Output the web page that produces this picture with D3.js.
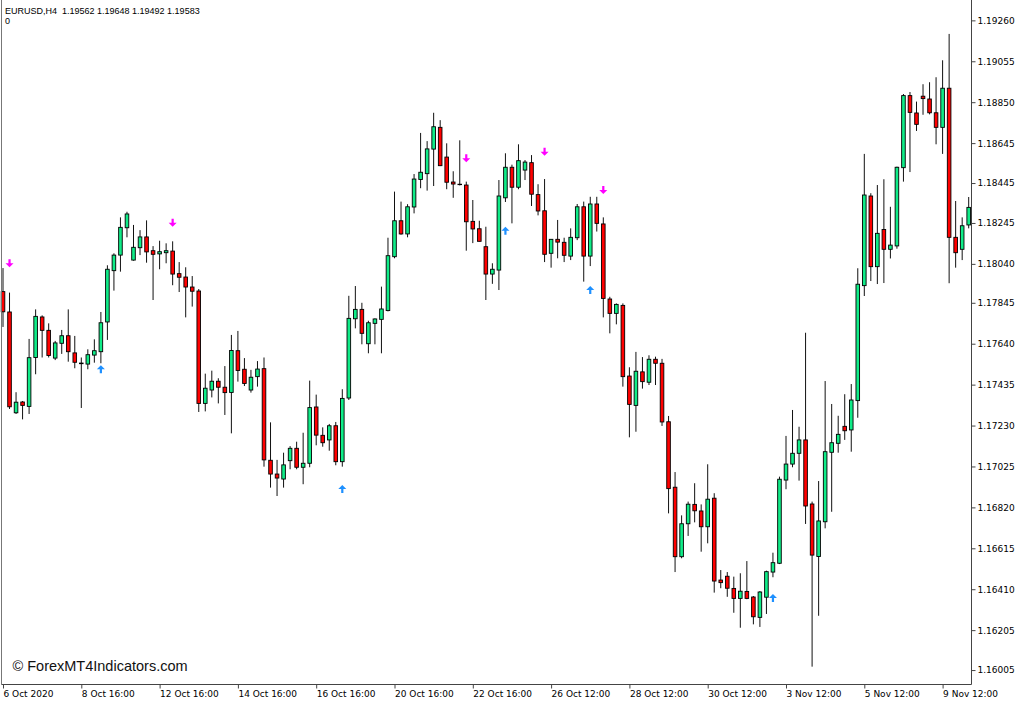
<!DOCTYPE html>
<html><head><meta charset="utf-8">
<script src="https://cdn.jsdelivr.net/npm/d3@7"></script>
<style>html,body{margin:0;padding:0;background:#fff;overflow:hidden}</style>
</head><body><svg id="c" width="1024" height="704"></svg>
<script>
const openP = [
1.17901,1.17799,1.17294,1.17348,1.17326,1.17571,1.17774,1.17707,1.17568,1.17642,
1.17680,1.17594,1.17543,1.17538,1.17583,1.17600,1.17749,1.18006,1.18084,1.18221,
1.18059,1.18121,1.18175,1.18106,1.18090,1.18096,1.18104,1.17991,1.17974,1.17924,
1.17904,1.17341,1.17408,1.17452,1.17422,1.17396,1.17605,1.17512,1.17408,1.17475,
1.17515,1.17056,1.16987,1.16962,1.17054,1.17116,1.17021,1.17041,1.17323,1.17181,
1.17158,1.17229,1.17049,1.17368,1.17765,1.17812,1.17640,1.17742,1.17762,1.17806,
1.18076,1.18256,1.18190,1.18325,1.18463,1.18492,1.18615,1.18724,1.18575,1.18450,
1.18439,1.18435,1.18253,1.18216,1.18126,1.17989,1.18009,1.18371,1.18524,1.18424,
1.18510,1.18547,1.18387,1.18306,1.18093,1.18163,1.18148,1.18079,1.18171,1.18326,
1.18079,1.18340,1.18240,1.17864,1.17792,1.17832,1.17478,1.17331,1.17499,1.17447,
1.17562,1.17542,1.17249,1.16921,1.16573,1.16738,1.16835,1.16802,1.16723,1.16866,
1.16456,1.16475,1.16414,1.16364,1.16399,1.16371,1.16269,1.16370,1.16496,1.16540,
1.16957,1.17037,1.17091,1.17158,1.16837,1.16574,1.16748,1.17096,1.17141,1.17226,
1.17208,1.17355,1.17931,1.18380,1.18026,1.18212,1.18113,1.18130,1.18522,1.18883,
1.18796,1.18880,1.18866,1.18797,1.18724,1.18920,1.18173,1.18113,1.18235];
const highP = [
1.18019,1.17896,1.17397,1.17353,1.17664,1.17812,1.17782,1.17742,1.17654,1.17709,
1.17812,1.17679,1.17571,1.17612,1.17662,1.17799,1.18033,1.18093,1.18273,1.18301,
1.18235,1.18209,1.18258,1.18129,1.18156,1.18143,1.18153,1.18049,1.18023,1.17979,
1.17914,1.17490,1.17505,1.17467,1.17528,1.17684,1.17704,1.17568,1.17509,1.17553,
1.17571,1.17246,1.17058,1.17094,1.17127,1.17149,1.17194,1.17455,1.17385,1.17221,
1.17238,1.17248,1.17412,1.17880,1.17929,1.17845,1.17755,1.17767,1.17926,1.18171,
1.18402,1.18352,1.18339,1.18490,1.18696,1.18655,1.18797,1.18760,1.18644,1.18504,
1.18659,1.18452,1.18360,1.18256,1.18226,1.18043,1.18460,1.18594,1.18537,1.18639,
1.18560,1.18585,1.18439,1.18465,1.18164,1.18260,1.18171,1.18218,1.18340,1.18352,
1.18376,1.18376,1.18273,1.17875,1.17842,1.17842,1.17522,1.17599,1.17573,1.17582,
1.17575,1.17564,1.17278,1.16997,1.16780,1.16849,1.16941,1.16835,1.17036,1.16891,
1.16506,1.16496,1.16473,1.16490,1.16551,1.16376,1.16401,1.16503,1.16593,1.16974,
1.17178,1.17308,1.17224,1.17695,1.16849,1.16952,1.17453,1.17338,1.17279,1.17387,
1.17438,1.18018,1.18591,1.18394,1.18435,1.18464,1.18326,1.18527,1.18891,1.18901,
1.18853,1.18940,1.18950,1.18975,1.19060,1.19192,1.18355,1.18273,1.18375];
const lowP = [
1.17724,1.17313,1.17288,1.17261,1.17288,1.17487,1.17571,1.17571,1.17558,1.17589,
1.17550,1.17517,1.17318,1.17512,1.17545,1.17542,1.17659,1.17906,1.18001,1.18173,
1.18056,1.18084,1.18046,1.17859,1.18013,1.18043,1.17933,1.17899,1.17772,1.17826,
1.17298,1.17301,1.17371,1.17341,1.17283,1.17191,1.17450,1.17428,1.17395,1.17425,
1.17024,1.16919,1.16877,1.16919,1.17011,1.17011,1.16936,1.17021,1.17131,1.17124,
1.17104,1.17031,1.17024,1.17358,1.17717,1.17637,1.17592,1.17637,1.17592,1.17802,
1.18068,1.18186,1.18173,1.18293,1.18419,1.18407,1.18430,1.18530,1.18414,1.18371,
1.18433,1.18106,1.18144,1.18152,1.17859,1.17940,1.17909,1.18350,1.18243,1.18414,
1.18460,1.18330,1.18283,1.18049,1.18021,1.18068,1.18049,1.18059,1.18159,1.17951,
1.18029,1.18202,1.17772,1.17692,1.17737,1.17425,1.17171,1.17199,1.17415,1.17433,
1.17433,1.17228,1.16790,1.16496,1.16565,1.16677,1.16745,1.16598,1.16640,1.16393,
1.16415,1.16372,1.16292,1.16217,1.16360,1.16234,1.16221,1.16286,1.16470,1.16536,
1.16911,1.17021,1.16954,1.16737,1.16022,1.16277,1.16715,1.16798,1.17094,1.17158,
1.17099,1.17269,1.17879,1.17954,1.17939,1.17944,1.18067,1.18116,1.18452,1.18500,
1.18706,1.18787,1.18789,1.18639,1.18591,1.17943,1.18021,1.18059,1.18218];
const closeP = [
1.17800,1.17324,1.17347,1.17331,1.17570,1.17777,1.17707,1.17581,1.17644,1.17680,
1.17600,1.17547,1.17540,1.17585,1.17605,1.17745,1.18013,1.18084,1.18223,1.18290,
1.18123,1.18175,1.18100,1.18088,1.18101,1.18106,1.17989,1.17973,1.17924,1.17903,
1.17341,1.17417,1.17452,1.17422,1.17395,1.17606,1.17506,1.17441,1.17472,1.17513,
1.17058,1.16987,1.16967,1.17033,1.17116,1.17021,1.17041,1.17320,1.17182,1.17144,
1.17229,1.17049,1.17366,1.17767,1.17812,1.17692,1.17745,1.17764,1.17814,1.18081,
1.18256,1.18190,1.18326,1.18465,1.18499,1.18616,1.18727,1.18532,1.18449,1.18440,
1.18437,1.18251,1.18215,1.18153,1.17989,1.18013,1.18380,1.18524,1.18424,1.18557,
1.18550,1.18389,1.18305,1.18088,1.18163,1.18149,1.18083,1.18173,1.18326,1.18079,
1.18340,1.18243,1.17867,1.17792,1.17837,1.17475,1.17336,1.17502,1.17450,1.17562,
1.17542,1.17248,1.16914,1.16573,1.16738,1.16836,1.16803,1.16723,1.16861,1.16451,
1.16443,1.16415,1.16364,1.16400,1.16364,1.16272,1.16396,1.16498,1.16543,1.16961,
1.17037,1.17091,1.17158,1.16827,1.16581,1.16752,1.17099,1.17144,1.17186,1.17204,
1.17358,1.17938,1.18385,1.18026,1.18193,1.18113,1.18134,1.18524,1.18883,1.18799,
1.18739,1.18868,1.18797,1.18724,1.18920,1.18173,1.18096,1.18231,1.18323];

const xTickIdx = [0,12,24,36,48,60,72,84,96,108,120,132,144];
const xTickLabels = ["6 Oct 2020","8 Oct 16:00","12 Oct 16:00","14 Oct 16:00","16 Oct 16:00",
  "20 Oct 16:00","22 Oct 16:00","26 Oct 12:00","28 Oct 12:00","30 Oct 12:00",
  "3 Nov 12:00","5 Nov 12:00","9 Nov 12:00"];
const yTickValues = [1.19260,1.19055,1.18850,1.18645,1.18445,1.18245,1.18040,1.17845,1.17640,
  1.17435,1.17230,1.17025,1.16820,1.16615,1.16410,1.16205,1.16005];

const sellIdx = [1,26,71,83,92];
const sellPrice = [1.18043,1.18246,1.18569,1.18602,1.18410];
const buyIdx = [15,52,77,90,118];
const buyPrice = [1.17512,1.16912,1.18206,1.17909,1.16366];

const headerText = "EURUSD,H4  1.19562 1.19648 1.19492 1.19583";
const subText = "0";
const watermark = "\u00A9 ForexMT4Indicators.com";

const svg = d3.select("#c");
svg.append("rect").attr("width",1024).attr("height",704).attr("fill","#fff");

const n = openP.length;
const xS = d3.scaleLinear().domain([0, n-1]).range([3, 3 + (n-1)*6.525]);
const yS = d3.scaleLinear().domain([1.16005, 1.19260]).range([670.06, 20.36]);

const candles = d3.range(n).map(i => ({i, o:openP[i], h:highP[i], l:lowP[i], c:closeP[i]}));

const plot = svg.append("g");
// wicks
plot.selectAll("line.w").data(candles).enter().append("line")
  .attr("class","w")
  .attr("x1", d => xS(d.i)).attr("x2", d => xS(d.i))
  .attr("y1", d => yS(d.h)).attr("y2", d => yS(d.l))
  .attr("stroke", "#111").attr("stroke-width", 1);
// bodies
plot.selectAll("rect.b").data(candles).enter().append("rect")
  .attr("class","b")
  .attr("x", d => xS(d.i) - 1.8)
  .attr("width", 3.6)
  .attr("y", d => yS(Math.max(d.o, d.c)))
  .attr("height", d => Math.abs(yS(d.o) - yS(d.c)))
  .attr("fill", d => d.c >= d.o ? "#10ec88" : "#ff0000")
  .attr("stroke", "#000").attr("stroke-width", 0.9);

// arrows
const downPath = "M-1.1,-4 L1.1,-4 L1.1,0 L4,0 L0,4 L-4,0 L-1.1,0 Z";
const upPath = "M-1.1,4 L1.1,4 L1.1,0 L4,0 L0,-4 L-4,0 L-1.1,0 Z";
plot.selectAll("path.s").data(sellIdx.map((d,k)=>({i:d,p:sellPrice[k]}))).enter().append("path")
  .attr("class","s").attr("d", downPath)
  .attr("transform", d => `translate(${xS(d.i)},${yS(d.p)})`)
  .attr("fill", "#ff00ff");
plot.selectAll("path.u").data(buyIdx.map((d,k)=>({i:d,p:buyPrice[k]}))).enter().append("path")
  .attr("class","u").attr("d", upPath)
  .attr("transform", d => `translate(${xS(d.i)},${yS(d.p)})`)
  .attr("fill", "#1e90ff");

// frame
svg.append("line").attr("x1",1.5).attr("x2",1.5).attr("y1",0).attr("y2",684.5).attr("stroke","#777");
svg.append("line").attr("x1",1.5).attr("x2",971.5).attr("y1",684.5).attr("y2",684.5).attr("stroke","#444");
svg.append("line").attr("x1",971.5).attr("x2",971.5).attr("y1",0).attr("y2",684.5).attr("stroke","#444");

// y axis
const yAxis = d3.axisRight(yS).tickValues(yTickValues).tickSize(4).tickPadding(2)
  .tickFormat(d => d.toFixed(5));
const yg = svg.append("g").attr("transform","translate(971.5,0)").call(yAxis);
yg.select(".domain").remove();
yg.selectAll(".tick line").attr("stroke","#444");
yg.selectAll(".tick text").attr("font-family","DejaVu Sans").attr("font-size","9px").attr("fill","#000");

// x axis
const xAxis = d3.axisBottom(xS).tickValues(xTickIdx).tickSize(4)
  .tickFormat((d,k) => xTickLabels[k]);
const xg = svg.append("g").attr("transform","translate(0,684.5)").call(xAxis);
xg.select(".domain").remove();
xg.selectAll(".tick line").attr("stroke","#444");
xg.selectAll(".tick text").attr("font-family","DejaVu Sans").attr("font-size","9px")
  .attr("fill","#000").attr("text-anchor","start").attr("y",6).attr("x",0);

// texts
svg.append("text").attr("x",5).attr("y",14).attr("font-family","Liberation Sans")
  .attr("font-size","9px").attr("fill","#000").style("white-space","pre").text(headerText);
svg.append("text").attr("x",5).attr("y",23.5).attr("font-family","Liberation Sans")
  .attr("font-size","9px").attr("fill","#000").text(subText);
svg.append("text").attr("x",12.5).attr("y",670.5).attr("font-family","Liberation Sans")
  .attr("font-size","14.5px").attr("fill","#111").text(watermark);
</script>
</body></html>
